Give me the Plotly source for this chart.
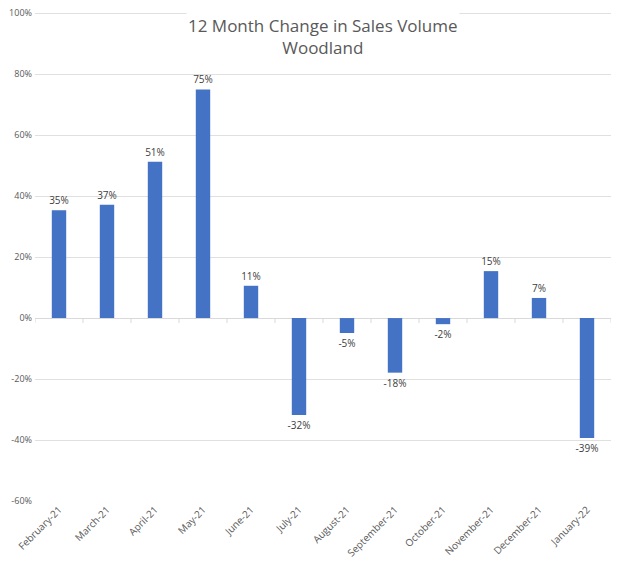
import plotly.graph_objects as go

months = ["February-21", "March-21", "April-21", "May-21", "June-21", "July-21",
          "August-21", "September-21", "October-21", "November-21", "December-21", "January-22"]
change_pct = [35.4, 37.2, 51.3, 75.0, 10.6, -31.8, -4.9, -17.9, -2.0, 15.4, 6.6, -39.3]
labels = ["35%", "37%", "51%", "75%", "11%", "-32%", "-5%", "-18%", "-2%", "15%", "7%", "-39%"]
y_ticks = [100, 80, 60, 40, 20, 0, -20, -40, -60]
y_tick_text = ["100%", "80%", "60%", "40%", "20%", "0%", "-20%", "-40%", "-60%"]

font_family = "Open Sans, Liberation Sans, sans-serif"

fig = go.Figure()
fig.add_trace(go.Bar(
    x=list(range(len(months))), y=change_pct,
    marker=dict(color="#4472C4", line=dict(width=0)),
    text=labels, textposition="outside", cliponaxis=False,
    textfont=dict(size=10, color="#404040", family=font_family),
))

# small tick marks on the zero line at category boundaries
for i in range(len(months) + 1):
    fig.add_shape(type="line", xref="x", yref="y",
                  x0=i - 0.5, x1=i - 0.5, y0=0, y1=-1.6,
                  line=dict(color="#d9d9d9", width=1))

fig.update_layout(
    width=625, height=564,
    margin=dict(l=27, r=22, t=4, b=71),
    plot_bgcolor="white", paper_bgcolor="white",
    bargap=0.7,
    showlegend=False,
    uniformtext=dict(minsize=10, mode="show"),
    font=dict(family=font_family, color="#595959"),
    annotations=[dict(
        text="12 Month Change in Sales Volume<br>Woodland",
        x=0.5, xref="paper", y=1.0, yref="paper", xanchor="center", yanchor="top",
        showarrow=False, font=dict(size=17, color="#595959", family=font_family),
        bgcolor="white",
    )],
)
fig.update_xaxes(
    tickmode="array", tickvals=list(range(len(months))), ticktext=months,
    tickangle=-45, tickfont=dict(size=10, color="#595959"),
    range=[-0.5, len(months) - 0.5], showgrid=False, zeroline=False, ticks="",
    showline=False, automargin=False,
)
fig.update_yaxes(
    range=[-60, 100.4], tickmode="array", tickvals=y_ticks, ticktext=y_tick_text,
    tickfont=dict(size=9, color="#595959"),
    showgrid=True, gridcolor="#e0e0e0", gridwidth=1,
    zeroline=True, zerolinecolor="#d9d9d9", zerolinewidth=1,
    ticks="", showline=False, automargin=False, ticklabeloverflow="allow",
    ticklabelstandoff=2,
)

fig.write_html("out.html")
